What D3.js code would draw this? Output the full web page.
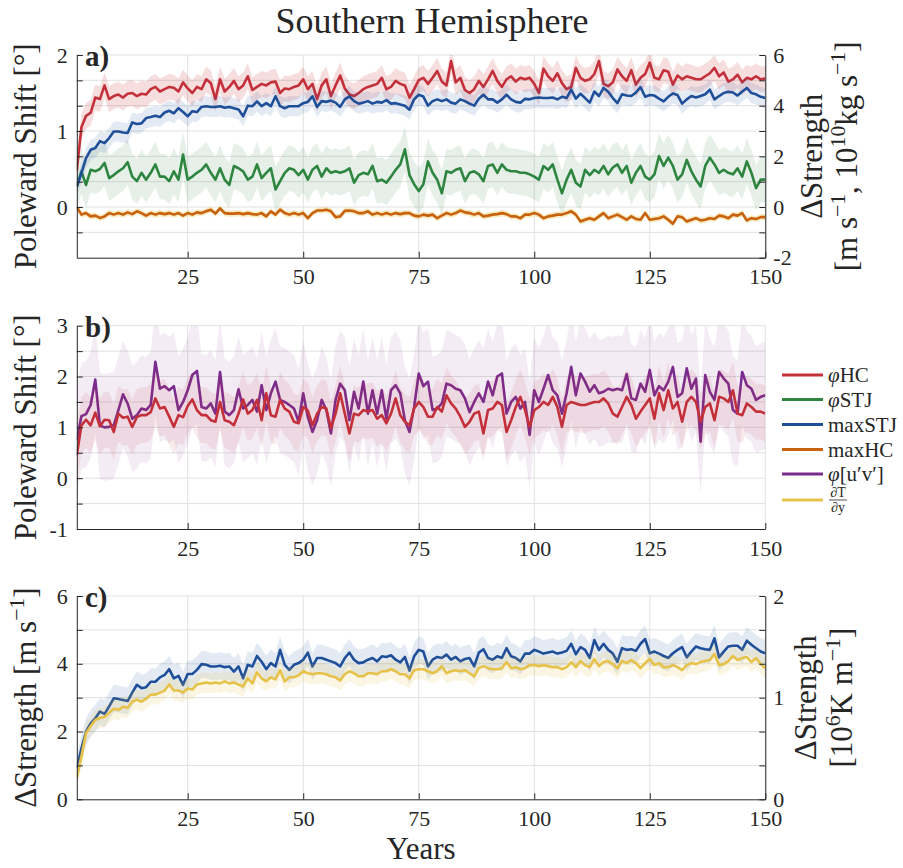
<!DOCTYPE html>
<html lang="en">
<head>
<meta charset="UTF-8">
<title>Southern Hemisphere</title>
<script src="https://d3js.org/d3.v7.min.js"></script>
<style>
body { margin: 0; background: #fff; }
svg text { font-family: "Liberation Serif", "DejaVu Serif", serif; fill: #262626; }
.grid line { stroke: #e1e1e1; stroke-width: 1; }
.axis path, .axis line { stroke: #262626; stroke-width: 1; }
.axis text { font-size: 22px; fill: #262626; }
.series { fill: none; stroke-width: 2.6; stroke-linejoin: round; }
.band { stroke: none; }
</style>
</head>
<body>
<script>
var years = d3.range(1, 151);

// panel a (phi on left axis [deg], max on right axis)
var phiHC_a = [0.48,1.05,1.2,1.24,1.44,1.42,1.6,1.42,1.46,1.48,
  1.44,1.49,1.5,1.46,1.49,1.48,1.55,1.58,1.52,1.55,
  1.58,1.57,1.52,1.64,1.56,1.5,1.58,1.55,1.68,1.63,
  1.42,1.68,1.52,1.58,1.66,1.55,1.6,1.72,1.54,1.58,
  1.62,1.6,1.64,1.65,1.5,1.56,1.55,1.58,1.6,1.68,
  1.55,1.62,1.42,1.6,1.68,1.46,1.6,1.73,1.56,1.48,
  1.46,1.5,1.55,1.58,1.6,1.62,1.7,1.55,1.58,1.66,
  1.62,1.6,1.44,1.55,1.67,1.7,1.62,1.7,1.79,1.65,
  1.6,1.92,1.64,1.7,1.54,1.5,1.55,1.66,1.58,1.68,
  1.79,1.66,1.58,1.68,1.72,1.65,1.7,1.68,1.7,1.62,
  1.5,1.82,1.72,1.66,1.76,1.63,1.55,1.58,1.83,1.7,
  1.66,1.68,1.75,1.92,1.62,1.59,1.64,1.81,1.72,1.66,
  1.8,1.61,1.7,1.75,1.9,1.7,1.68,1.8,1.78,1.61,
  1.73,1.68,1.72,1.7,1.68,1.68,1.72,1.76,1.83,1.72,
  1.77,1.65,1.68,1.74,1.64,1.7,1.68,1.72,1.68,1.69];

var phiSTJ_a = [0.27,0.47,0.29,0.49,0.47,0.5,0.58,0.38,0.42,0.47,
  0.51,0.59,0.4,0.34,0.45,0.36,0.45,0.56,0.4,0.4,
  0.34,0.47,0.36,0.69,0.36,0.4,0.45,0.49,0.56,0.45,
  0.36,0.51,0.36,0.29,0.54,0.51,0.47,0.36,0.4,0.56,
  0.38,0.45,0.51,0.23,0.34,0.45,0.51,0.49,0.42,0.49,
  0.36,0.49,0.54,0.4,0.51,0.45,0.47,0.45,0.47,0.51,
  0.32,0.42,0.45,0.43,0.54,0.34,0.36,0.32,0.4,0.49,
  0.56,0.76,0.42,0.3,0.21,0.3,0.6,0.45,0.36,0.18,
  0.47,0.45,0.49,0.51,0.34,0.45,0.47,0.43,0.34,0.54,
  0.56,0.45,0.56,0.49,0.47,0.47,0.45,0.45,0.43,0.4,
  0.36,0.54,0.49,0.56,0.36,0.18,0.36,0.49,0.32,0.27,
  0.49,0.42,0.49,0.45,0.54,0.43,0.52,0.56,0.45,0.54,
  0.32,0.45,0.54,0.4,0.36,0.43,0.67,0.54,0.65,0.54,
  0.36,0.43,0.62,0.47,0.36,0.27,0.54,0.65,0.56,0.45,
  0.49,0.45,0.43,0.51,0.4,0.6,0.45,0.25,0.36,0.36];

var maxSTJ_a = [0.8,1.34,1.93,2.26,2.33,2.6,2.52,2.72,2.98,2.98,
  2.94,2.92,3.34,3.28,3.3,3.51,3.55,3.6,3.55,3.73,
  3.8,3.7,3.9,3.75,3.58,3.78,3.75,3.95,3.98,3.95,
  3.95,3.98,3.92,3.95,3.9,3.85,3.58,4.0,3.98,4.17,
  3.98,4.1,3.98,4.37,3.98,3.9,3.98,3.98,3.98,4.1,
  4.15,4.37,3.95,4.18,4.15,4.2,4.12,3.95,4.25,4.37,
  4.18,4.08,4.12,4.18,4.08,4.15,4.12,4.22,4.08,4.1,
  4.05,4.0,3.84,4.25,4.43,4.36,4.0,4.18,4.25,4.18,
  4.25,4.12,4.08,4.25,4.18,4.08,4.0,4.27,4.43,4.25,
  4.25,4.12,4.25,4.43,4.25,4.15,4.12,4.27,4.25,4.3,
  4.32,4.3,4.3,4.32,4.25,4.35,4.3,4.63,4.28,4.47,
  4.3,4.12,4.56,4.38,4.7,4.55,4.3,4.1,4.45,4.4,
  4.38,4.52,4.73,4.35,4.42,4.4,4.28,4.17,4.35,4.48,
  4.42,4.08,4.25,4.38,4.32,4.38,4.45,4.63,4.25,4.38,
  4.5,4.55,4.52,4.4,4.56,4.7,4.5,4.45,4.35,4.3];

var maxHC_a = [0,-0.3,-0.24,-0.37,-0.34,-0.43,-0.37,-0.24,-0.3,-0.24,
  -0.3,-0.21,-0.28,-0.17,-0.24,-0.34,-0.24,-0.3,-0.24,-0.28,
  -0.24,-0.3,-0.24,-0.34,-0.24,-0.3,-0.21,-0.24,-0.17,-0.11,
  -0.26,-0.05,-0.24,-0.26,-0.26,-0.24,-0.28,-0.24,-0.28,-0.3,
  -0.24,-0.37,-0.17,-0.3,-0.1,-0.24,-0.3,-0.24,-0.3,-0.24,
  -0.44,-0.24,-0.14,-0.14,-0.11,-0.17,-0.4,-0.37,-0.15,-0.14,
  -0.17,-0.24,-0.24,-0.17,-0.3,-0.24,-0.3,-0.24,-0.3,-0.24,
  -0.28,-0.24,-0.24,-0.34,-0.37,-0.3,-0.34,-0.3,-0.44,-0.34,
  -0.24,-0.3,-0.24,-0.14,-0.21,-0.24,-0.3,-0.24,-0.37,-0.34,
  -0.3,-0.28,-0.24,-0.28,-0.37,-0.37,-0.44,-0.3,-0.3,-0.24,
  -0.3,-0.44,-0.37,-0.34,-0.3,-0.3,-0.24,-0.17,-0.3,-0.57,
  -0.5,-0.44,-0.5,-0.37,-0.24,-0.44,-0.37,-0.3,-0.4,-0.5,
  -0.37,-0.47,-0.5,-0.24,-0.5,-0.47,-0.44,-0.37,-0.5,-0.66,
  -0.37,-0.4,-0.57,-0.5,-0.44,-0.53,-0.5,-0.44,-0.47,-0.34,
  -0.37,-0.44,-0.3,-0.34,-0.24,-0.53,-0.44,-0.47,-0.4,-0.4];

// panel b
var phiHC_b = [0.45,1.04,1.15,1.04,1.29,1.02,1.15,1.14,0.91,1.27,
  1.19,1.21,1.01,1.2,1.24,1.24,1.3,1.57,1.37,1.4,
  1.21,1.01,1.24,1.2,1.42,1.55,1.34,1.24,1.24,1.14,
  1.11,1.5,1.14,1.11,1.04,1.27,1.55,1.27,1.34,1.54,
  1.14,1.67,1.24,1.21,1.54,1.37,1.31,1.11,1.08,1.4,
  1.33,1.04,1.27,1.4,1.37,0.98,1.27,1.67,1.27,0.88,
  1.27,1.24,1.34,1.31,1.34,1.17,1.24,1.08,1.27,1.57,
  1.24,1.11,1.04,1.37,1.5,1.4,1.21,1.21,1.4,1.31,
  1.63,1.47,1.37,1.21,1.01,1.11,1.27,1.31,0.88,1.34,
  1.37,1.5,1.44,0.91,1.14,1.4,1.6,1.34,1.01,1.34,
  1.4,1.5,1.44,1.6,1.4,1.01,1.44,1.5,1.47,1.44,
  1.44,1.47,1.5,1.5,1.57,1.47,1.27,1.21,1.4,1.6,
  1.44,1.17,1.31,1.44,1.57,1.17,1.67,1.34,1.73,1.37,
  1.5,1.11,1.5,1.6,1.5,1.11,1.4,1.47,1.14,1.6,
  1.57,1.5,1.73,1.27,1.24,1.47,1.4,1.31,1.31,1.27];

var phiUV_b = [0.75,1.22,1.26,1.44,1.94,1.04,1.0,1.01,1.04,1.34,
  1.65,1.47,1.17,1.24,1.37,1.34,1.44,2.29,1.76,1.81,
  1.73,1.81,1.34,1.5,1.73,2.03,2.11,1.4,1.37,1.47,
  1.27,2.09,1.31,1.24,1.34,1.75,1.37,1.44,1.54,1.31,
  1.83,1.34,1.67,1.9,1.54,1.5,1.44,1.37,1.11,1.67,
  1.2,0.91,1.14,1.54,1.34,0.88,1.54,1.86,1.73,1.14,
  1.7,1.37,1.9,1.27,1.73,1.27,1.73,1.17,1.73,1.83,
  1.67,1.14,0.91,1.4,2.06,1.81,1.9,1.34,1.37,1.47,
  1.86,1.83,1.76,1.73,1.57,1.3,1.5,1.67,1.5,1.9,
  1.63,2.0,2.06,1.27,1.5,1.6,1.37,1.5,0.85,1.73,
  1.5,1.76,2.03,1.73,1.63,1.27,1.67,2.19,1.63,2.06,
  1.9,1.7,1.83,1.67,1.7,1.76,1.73,1.76,1.73,2.05,
  1.57,1.54,1.86,1.7,2.13,1.63,1.81,1.73,1.9,2.19,
  1.6,1.67,2.16,1.76,1.96,0.72,2.03,1.7,1.54,2.09,
  1.96,1.86,1.34,1.27,2.09,1.83,1.76,1.54,1.6,1.63];

// panel c (maxSTJ on left axis, dT/dy on right axis)
var maxSTJ_c = [0.92,1.5,2.0,2.24,2.39,2.59,2.52,2.74,2.98,2.96,
  2.93,2.9,3.15,3.38,3.28,3.31,3.47,3.47,3.6,3.67,
  3.84,3.57,3.64,3.38,3.7,3.7,3.82,3.99,3.97,3.92,
  3.92,3.94,3.9,3.92,3.77,3.92,3.57,3.97,3.92,4.23,
  4.06,3.84,4.02,3.92,4.41,3.97,3.82,3.97,4.02,4.12,
  4.33,3.92,4.17,4.17,4.12,4.07,4.02,3.92,4.17,4.33,
  4.12,4.02,4.04,4.12,4.17,4.07,4.22,4.2,4.25,4.12,
  4.04,4.2,3.8,4.22,4.41,4.36,3.92,4.12,4.2,4.17,
  4.27,4.12,4.2,4.07,4.14,4.17,3.92,4.33,4.43,4.17,
  4.12,4.22,4.17,4.46,4.22,4.17,4.07,4.3,4.3,4.41,
  4.36,4.3,4.33,4.36,4.3,4.33,4.38,4.59,4.28,4.49,
  4.41,4.17,4.7,4.41,4.59,4.41,4.3,4.06,4.46,4.41,
  4.43,4.38,4.59,4.73,4.31,4.36,4.3,4.23,4.17,4.31,
  4.41,4.49,4.19,4.36,4.51,4.46,4.43,4.41,4.75,4.19,
  4.36,4.51,4.53,4.53,4.41,4.68,4.56,4.46,4.36,4.31];

var dTdy_c = [0.21,0.42,0.65,0.72,0.78,0.8,0.81,0.85,0.89,0.88,
  0.91,0.9,0.96,0.98,0.96,0.99,1.03,1.03,1.05,1.07,
  1.13,1.07,1.07,1.05,1.09,1.08,1.13,1.14,1.15,1.14,
  1.15,1.14,1.16,1.14,1.15,1.13,1.11,1.19,1.14,1.25,
  1.19,1.16,1.2,1.18,1.27,1.16,1.2,1.2,1.22,1.26,
  1.24,1.23,1.24,1.24,1.23,1.21,1.2,1.17,1.23,1.26,
  1.24,1.21,1.21,1.24,1.24,1.23,1.26,1.26,1.28,1.26,
  1.23,1.23,1.19,1.27,1.28,1.28,1.26,1.24,1.26,1.31,
  1.24,1.26,1.27,1.26,1.27,1.24,1.21,1.29,1.31,1.29,
  1.28,1.28,1.29,1.35,1.29,1.3,1.28,1.29,1.32,1.32,
  1.31,1.32,1.31,1.3,1.3,1.28,1.3,1.35,1.3,1.36,
  1.32,1.3,1.38,1.31,1.35,1.36,1.33,1.29,1.36,1.34,
  1.37,1.34,1.29,1.34,1.38,1.32,1.34,1.3,1.3,1.32,
  1.3,1.27,1.32,1.34,1.33,1.35,1.36,1.37,1.43,1.32,
  1.33,1.36,1.41,1.37,1.39,1.4,1.35,1.39,1.33,1.29];

// half-width of the shaded spread around each line
var spread_a = { phiHC: 0.17, phiSTJ: 0.3, maxSTJ: 0.4, maxHC: 0.12 };
var spread_b = { phiHC: 0.55, phiUV: 1.05 };
var spread_c = { maxSTJ: 0.4, dTdy: 0.1 };

var xTicks = [25, 50, 75, 100, 125, 150];

var colors = {
	phiHC: "#c4303a",
	phiSTJ: "#2e8540",
	maxSTJ: "#1f4f99",
	maxHC: "#c8620f",
	phiUV: "#7a2c8e",
	dTdy: "#e6c24a"
};

var serif = '"Liberation Serif", "DejaVu Serif", serif';

var w = 903, h = 868;
var plotLeft = 76.8, plotRight = 765.3;

var svg = d3.select("body").append("svg")
	.attr("width", w)
	.attr("height", h)
	.attr("font-family", serif);

var x = d3.scaleLinear().domain([1, 150]).range([plotLeft, plotRight]);

function isInt(d) { return Math.abs(d - Math.round(d)) < 1e-6; }

// text with superscripts: parts = [[str, "sup"|"it"|undefined], ...]
function richText(sel, parts, size) {
	var shift = 0;
	sel.style("font-family", serif);
	parts.forEach(function(p) {
		var t = sel.append("tspan").text(p[0]);
		var dy;
		if (p[1] === "sup") {
			dy = -size * 0.38 - shift;
			shift = -size * 0.38;
			t.style("font-size", (size * 0.7) + "px");
		} else {
			dy = -shift;
			shift = 0;
		}
		if (dy) t.attr("dy", dy);
		if (p[1] === "it") t.style("font-style", "italic");
	});
}

function drawPanel(p, idx) {
	var g = svg.append("g");
	var yL = d3.scaleLinear().domain(p.left.domain).range([p.bottom, p.top]);
	var yR = p.right ? d3.scaleLinear().domain(p.right.domain).range([p.bottom, p.top]) : null;

	var clipId = "clip" + idx;
	svg.append("clipPath").attr("id", clipId)
		.append("rect")
		.attr("x", plotLeft).attr("y", p.top)
		.attr("width", plotRight - plotLeft).attr("height", p.bottom - p.top);

	// gridlines
	var grid = g.append("g").classed("grid", true);
	grid.selectAll(".gy")
		.data(p.left.ticks.filter(function(d) { return yL(d) < p.bottom - 1; }))
		.enter().append("line")
		.attr("x1", plotLeft).attr("x2", plotRight)
		.attr("y1", function(d) { return yL(d); })
		.attr("y2", function(d) { return yL(d); });
	grid.selectAll(".gx")
		.data(xTicks)
		.enter().append("line")
		.attr("x1", function(d) { return x(d); })
		.attr("x2", function(d) { return x(d); })
		.attr("y1", p.top).attr("y2", p.bottom);

	var plot = g.append("g").attr("clip-path", "url(#" + clipId + ")");

	p.series.forEach(function(s) {
		var y = s.axis === "R" ? yR : yL;
		var area = d3.area()
			.x(function(d, i) { return x(years[i]); })
			.y0(function(d) { return y(d - s.spread); })
			.y1(function(d) { return y(d + s.spread); });
		var line = d3.line()
			.x(function(d, i) { return x(years[i]); })
			.y(function(d) { return y(d); });

		plot.append("path")
			.datum(s.values)
			.classed("band", true)
			.attr("d", area)
			.style("fill", s.bandColor || s.color)
			.style("fill-opacity", s.alpha || 0.16);

		plot.append("path")
			.datum(s.values)
			.classed("series", true)
			.attr("d", line)
			.style("stroke", s.color);
	});

	// axes
	var xAxis = d3.axisBottom(x)
		.tickValues(xTicks)
		.tickSizeInner(-6)
		.tickSizeOuter(0)
		.tickPadding(11)
		.tickFormat(function(d) { return d; });
	g.append("g").classed("axis", true)
		.attr("transform", "translate(0," + p.bottom + ")")
		.call(xAxis);

	var yAxisL = d3.axisLeft(yL)
		.tickValues(p.left.ticks)
		.tickSizeInner(-6)
		.tickSizeOuter(0)
		.tickPadding(9)
		.tickFormat(p.left.format);
	g.append("g").classed("axis", true)
		.attr("transform", "translate(" + plotLeft + ",0)")
		.call(yAxisL);

	if (yR) {
		var yAxisR = d3.axisRight(yR)
			.tickValues(p.right.ticks)
			.tickSizeInner(-6)
			.tickSizeOuter(0)
			.tickPadding(8)
			.tickFormat(p.right.format);
		g.append("g").classed("axis", true)
			.attr("transform", "translate(" + plotRight + ",0)")
			.call(yAxisR);
	}
	g.selectAll(".axis").attr("font-family", serif).attr("font-size", 22);
	g.selectAll(".axis text").style("font-family", serif);

	// panel letter
	g.append("text")
		.attr("x", 85)
		.attr("y", p.top + 11)
		.style("font-family", serif)
		.style("font-size", "29px")
		.style("font-weight", "bold")
		.text(p.letter);

	// left label
	var ll = g.append("text")
		.attr("transform", "translate(36," + ((p.top + p.bottom) / 2) + ") rotate(-90)")
		.style("text-anchor", "middle")
		.style("font-size", "31px");
	richText(ll, p.left.label, 31);

	if (p.right) {
		p.right.label.forEach(function(lineParts, k) {
			var rl = g.append("text")
				.attr("transform", "translate(" + p.right.labelX[k] + "," + ((p.top + p.bottom) / 2) + ") rotate(-90)")
				.style("text-anchor", "middle")
				.style("font-size", "31px");
			richText(rl, lineParts, 31);
		});
	}
}

var fmtInt = function(d) { return isInt(d) ? String(Math.round(d)) : ""; };
var fmtEven = function(d) { return isInt(d) && Math.round(d) % 2 === 0 ? String(Math.round(d)) : ""; };

var panels = [
	{
		letter: "a)", top: 55, bottom: 257.7,
		left: {
			domain: [-2 / 3, 2],
			ticks: d3.range(-1, 7).map(function(v) { return v / 3; }),
			format: fmtInt,
			label: [["Poleward Shift [\u00b0]"]]
		},
		right: {
			domain: [-2, 6],
			ticks: d3.range(-2, 7),
			format: fmtEven,
			labelX: [822, 857],
			label: [
				[["\u0394Strength"]],
				[["[m s"], ["\u22121", "sup"], [", 10"], ["10", "sup"], ["kg s"], ["\u22121", "sup"], ["]"]]
			]
		},
		series: [
			{ values: phiHC_a, axis: "L", color: colors.phiHC, spread: spread_a.phiHC },
			{ values: phiSTJ_a, axis: "L", color: colors.phiSTJ, spread: spread_a.phiSTJ, alpha: 0.12 },
			{ values: maxSTJ_a, axis: "R", color: colors.maxSTJ, spread: spread_a.maxSTJ, alpha: 0.12 },
			{ values: maxHC_a, axis: "R", color: colors.maxHC, bandColor: colors.dTdy, spread: spread_a.maxHC, alpha: 0.35 }
		]
	},
	{
		letter: "b)", top: 325.7, bottom: 529,
		left: {
			domain: [-1, 3],
			ticks: d3.range(-2, 7).map(function(v) { return v / 2; }),
			format: fmtInt,
			label: [["Poleward Shift [\u00b0]"]]
		},
		right: null,
		series: [
			{ values: phiUV_b, axis: "L", color: colors.phiUV, spread: spread_b.phiUV, alpha: 0.09 },
			{ values: phiHC_b, axis: "L", color: colors.phiHC, spread: spread_b.phiHC, alpha: 0.1 }
		]
	},
	{
		letter: "c)", top: 596, bottom: 799.3,
		left: {
			domain: [0, 6],
			ticks: d3.range(0, 7),
			format: fmtEven,
			label: [["\u0394Strength [m s"], ["\u22121", "sup"], ["]"]]
		},
		right: {
			domain: [0, 2],
			ticks: d3.range(0, 7).map(function(v) { return v / 3; }),
			format: fmtInt,
			labelX: [816, 852],
			label: [
				[["\u0394Strength"]],
				[["[10"], ["6", "sup"], ["K m"], ["\u22121", "sup"], ["]"]]
			]
		},
		series: [
			{ values: maxSTJ_c, axis: "L", color: colors.maxSTJ, spread: spread_c.maxSTJ, alpha: 0.12 },
			{ values: dTdy_c, axis: "R", color: colors.dTdy, spread: spread_c.dTdy, alpha: 0.15 }
		]
	}
];

panels.forEach(drawPanel);

// title and x label
svg.append("text")
	.attr("x", 432)
	.attr("y", 33)
	.style("text-anchor", "middle")
	.style("font-family", serif)
	.style("font-size", "36px")
	.text("Southern Hemisphere");

svg.append("text")
	.attr("x", (plotLeft + plotRight) / 2)
	.attr("y", 859)
	.style("text-anchor", "middle")
	.style("font-family", serif)
	.style("font-size", "31px")
	.text("Years");

// legend
var legendItems = [
	{ key: "phiHC", parts: [["\u03c6", "it"], ["HC"]] },
	{ key: "phiSTJ", parts: [["\u03c6", "it"], ["STJ"]] },
	{ key: "maxSTJ", parts: [["maxSTJ"]] },
	{ key: "maxHC", parts: [["maxHC"]] },
	{ key: "phiUV", parts: [["\u03c6", "it"], ["[u\u2032v\u2032]"]] },
	{ key: "dTdy", parts: null }
];
var legendY = [375, 399.5, 424.5, 449.5, 474, 500];

var legend = svg.append("g");
legendItems.forEach(function(item, i) {
	var gy = legendY[i];
	legend.append("line")
		.attr("x1", 782).attr("x2", 823)
		.attr("y1", gy).attr("y2", gy)
		.style("stroke", colors[item.key])
		.style("stroke-width", 3);
	if (item.parts) {
		var t = legend.append("text")
			.attr("x", 828).attr("y", gy + 7)
			.style("font-size", "21px");
		richText(t, item.parts, 21);
	} else {
		legend.append("text")
			.attr("x", 838).attr("y", gy - 3)
			.style("text-anchor", "middle")
			.style("font-family", serif)
			.style("font-size", "14px")
			.text("\u2202T");
		legend.append("line")
			.attr("x1", 829).attr("x2", 847)
			.attr("y1", gy).attr("y2", gy)
			.style("stroke", "#262626").style("stroke-width", 0.8);
		legend.append("text")
			.attr("x", 838).attr("y", gy + 12)
			.style("text-anchor", "middle")
			.style("font-family", serif)
			.style("font-size", "14px")
			.text("\u2202y");
	}
});
</script>
</body>
</html>
